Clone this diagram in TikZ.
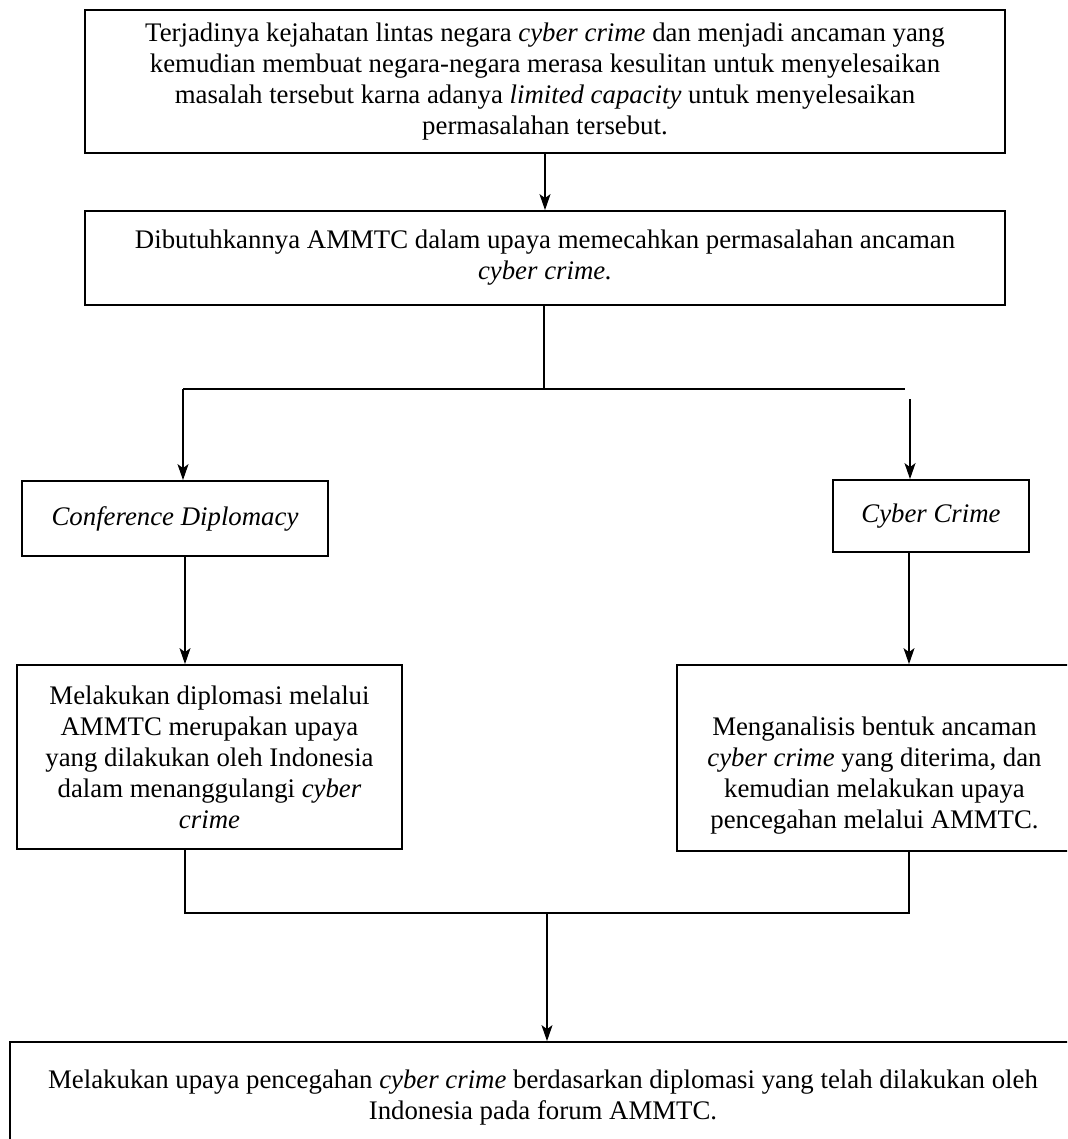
\documentclass[tikz,border=0pt]{standalone}
\usepackage{fontspec}
\setmainfont{Liberation Serif}
\usetikzlibrary{arrows.meta, positioning}

\begin{document}
\begin{tikzpicture}[
  x=1pt, y=-1pt,
  box/.style={draw, line width=1.8pt, inner sep=0pt, align=center,
              font=\fontsize{26.8}{31}\selectfont},
  teks/.style={inner sep=0pt, align=center, font=\fontsize{26.8}{31}\selectfont},
  arrow/.style={-{Stealth[length=16pt, width=11pt, inset=4pt]}, line width=1.3pt},
  link/.style={line width=1.3pt}
]
  \useasboundingbox (0,0) rectangle (1067,1139);
  \clip (0,0) rectangle (1067,1139);

  % problem
  \node[box, minimum width=920pt, minimum height=143pt] (sebab) at (545,81.5)
    {Terjadinya kejahatan lintas negara \textit{cyber crime} dan menjadi ancaman yang\\
     kemudian membuat negara-negara merasa kesulitan untuk menyelesaikan\\
     masalah tersebut karna adanya \textit{limited capacity} untuk menyelesaikan\\
     permasalahan tersebut.};
  \node[box, minimum width=920pt, minimum height=94pt] (butuh) at (545,258)
    {Dibutuhkannya AMMTC dalam upaya memecahkan permasalahan ancaman\\
     \textit{cyber crime.}};

  % concepts
  \node[box, minimum width=306pt, minimum height=75pt] (diplo) at (175,518.5)
    {\textit{Conference Diplomacy}};
  \node[box, minimum width=196pt, minimum height=72pt] (cyber) at (931,516)
    {\textit{Cyber Crime}};

  % analysis
  \node[box, minimum width=385pt, minimum height=184pt] (upaya) at (209.5,757)
    {Melakukan diplomasi melalui\\
     AMMTC merupakan upaya\\
     yang dilakukan oleh Indonesia\\
     dalam menanggulangi \textit{cyber}\\
     \textit{crime}};
  \node[box, minimum width=395pt, minimum height=186pt] (analisis) at (874.5,758) {};
  \node[teks] (analisisteks) at ([yshift=-18pt]analisis.center)
    {Menganalisis bentuk ancaman\\
     \textit{cyber crime} yang diterima, dan\\
     kemudian melakukan upaya\\
     pencegahan melalui AMMTC.};

  % result
  \node[box, minimum width=1066pt, minimum height=112pt] (cegah) at (543,1098)
    {Melakukan upaya pencegahan \textit{cyber crime} berdasarkan diplomasi yang telah dilakukan oleh\\
     Indonesia pada forum AMMTC.};

  % junctions
  \coordinate (cabang) at (544,389);
  \coordinate (kiri) at (183,389);
  \coordinate (kanan) at (905,389);
  \coordinate (kananatas) at (910,399);
  \coordinate (kolkiri) at (185,0);
  \coordinate (kolkanan) at (909,0);
  \coordinate (gabung) at (547,913);

  % arrows
  \draw[arrow] (sebab) -- (butuh);
  \draw[link] (butuh.south -| cabang) -- (cabang);
  \draw[link] (kiri) -- (kanan);
  \draw[arrow] (kiri) -- (kiri |- diplo.north);
  \draw[arrow] (kananatas) -- (kananatas |- cyber.north);
  \draw[arrow] (diplo.south -| kolkiri) -- (upaya.north -| kolkiri);
  \draw[arrow] (cyber.south -| kolkanan) -- (analisis.north -| kolkanan);
  \draw[link] (upaya.south -| kolkiri) |- (gabung) -| (analisis.south -| kolkanan);
  \draw[arrow] (gabung) -- (cegah.north -| gabung);
\end{tikzpicture}
\end{document}
